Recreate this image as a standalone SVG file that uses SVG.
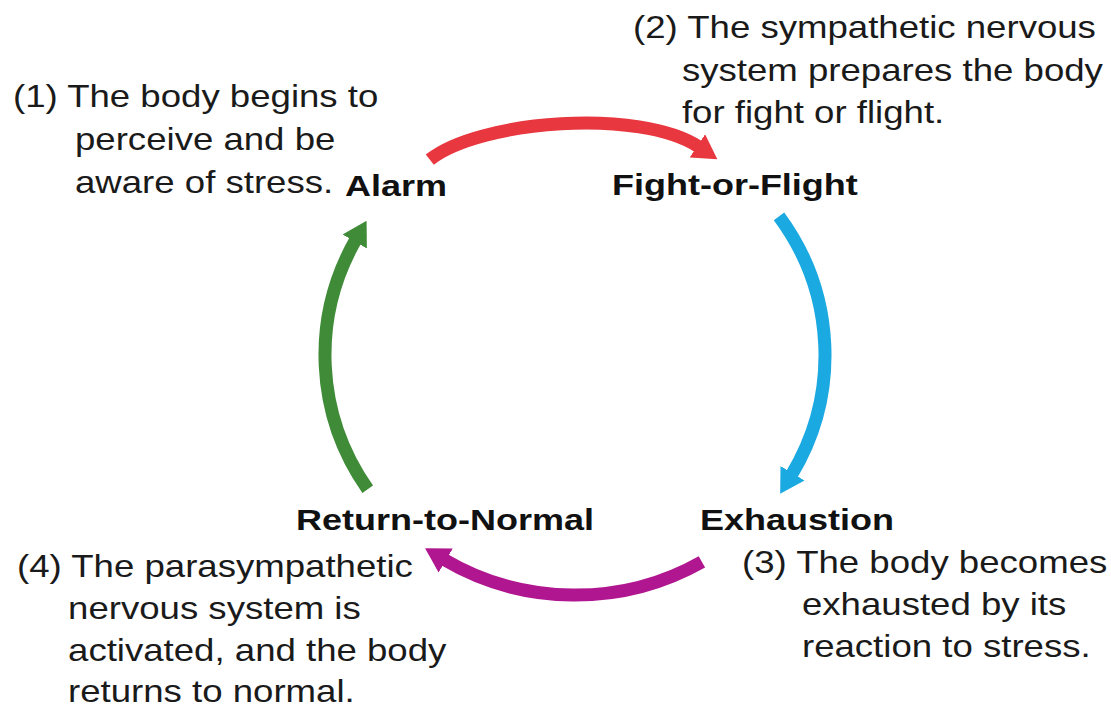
<svg xmlns="http://www.w3.org/2000/svg" width="1111" height="709" viewBox="0 0 1111 709">
  <style>
    .t { font-family: "Liberation Sans", Arial, sans-serif; font-size: 30.5px; fill: #1a1a1a; }
    .b { font-family: "Liberation Sans", Arial, sans-serif; font-size: 30px; font-weight: bold; fill: #111111; }
    .arc { fill: none; stroke-width: 13; stroke-linecap: butt; }
  </style>
  <defs>
    <marker id="hr" markerUnits="userSpaceOnUse" viewBox="0 0 24 28" markerWidth="24" markerHeight="28" refX="2" refY="14" orient="auto"><path d="M0,0 L24,14 L0,28 Z" fill="#e8373f"/></marker>
    <marker id="hb" markerUnits="userSpaceOnUse" viewBox="0 0 24 28" markerWidth="24" markerHeight="28" refX="2" refY="14" orient="auto"><path d="M0,0 L24,14 L0,28 Z" fill="#1ba9e1"/></marker>
    <marker id="hm" markerUnits="userSpaceOnUse" viewBox="0 0 24 28" markerWidth="24" markerHeight="28" refX="2" refY="14" orient="auto"><path d="M0,0 L24,14 L0,28 Z" fill="#b0168f"/></marker>
    <marker id="hg" markerUnits="userSpaceOnUse" viewBox="0 0 24 28" markerWidth="24" markerHeight="28" refX="2" refY="14" orient="auto"><path d="M0,0 L24,14 L0,28 Z" fill="#3f8b38"/></marker>
  </defs>
  <rect width="1111" height="709" fill="#ffffff"/>
  <g id="connectors">
    <path class="arc" stroke="#e8373f" marker-end="url(#hr)" d="M 429.8,159.6 C 480,120 640,108 699,147"/>
    <path class="arc" stroke="#1ba9e1" marker-end="url(#hb)" d="M 779,216.3 A 250 240 0 0 1 791.5,475"/>
    <path class="arc" stroke="#b0168f" marker-end="url(#hm)" d="M 701.9,561.8 A 250 240 0 0 1 444,559.5"/>
    <path class="arc" stroke="#3f8b38" marker-end="url(#hg)" d="M 367.7,489.2 A 250 240 0 0 1 355.7,239.8"/>
  </g>
  <g transform="scale(1.2 1)">
    <g id="alarm">
      <text class="b" x="287.5" y="196">Alarm</text>
      <text class="t" x="10.8" y="107">(1) The body begins to</text>
      <text class="t" x="62.5" y="150">perceive and be</text>
      <text class="t" x="62.5" y="193">aware of stress.</text>
    </g>
    <g id="fight-or-flight">
      <text class="b" x="510" y="195">Fight-or-Flight</text>
      <text class="t" x="527.5" y="38">(2) The sympathetic nervous</text>
      <text class="t" x="568.3" y="81">system prepares the body</text>
      <text class="t" x="568.3" y="123">for fight or flight.</text>
    </g>
    <g id="exhaustion">
      <text class="b" x="583.3" y="530">Exhaustion</text>
      <text class="t" x="618.3" y="573">(3) The body becomes</text>
      <text class="t" x="668.3" y="615">exhausted by its</text>
      <text class="t" x="668.3" y="657">reaction to stress.</text>
    </g>
    <g id="return-to-normal">
      <text class="b" x="246.7" y="530">Return-to-Normal</text>
      <text class="t" x="14.2" y="577">(4) The parasympathetic</text>
      <text class="t" x="56.7" y="619">nervous system is</text>
      <text class="t" x="56.7" y="661">activated, and the body</text>
      <text class="t" x="56.7" y="702">returns to normal.</text>
    </g>
  </g>
</svg>
